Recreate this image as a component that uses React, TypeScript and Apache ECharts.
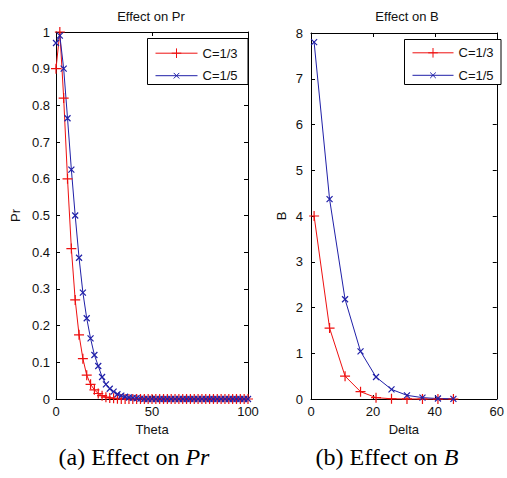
import React, { useEffect, useRef } from "react";
import * as echarts from "echarts";

const theta = [0, 2, 4, 6, 8, 10, 12, 14, 16, 18, 20, 22, 24, 26, 28, 30, 32, 34, 36, 38, 40, 42, 44, 46, 48, 50, 52, 54, 56, 58, 60, 62, 64, 66, 68, 70, 72, 74, 76, 78, 80, 82, 84, 86, 88, 90, 92, 94, 96, 98, 100];
const prRed = [0.9, 1.0, 0.82, 0.6, 0.41, 0.27, 0.175, 0.11, 0.065, 0.04, 0.025, 0.015, 0.009, 0.005, 0.003, 0.002, 0.001, 0, 0, 0, 0, 0, 0, 0, 0, 0, 0, 0, 0, 0, 0, 0, 0, 0, 0, 0, 0, 0, 0, 0, 0, 0, 0, 0, 0, 0, 0, 0, 0, 0, 0];
const prBlue = [0.97, 0.99, 0.9, 0.765, 0.625, 0.5, 0.385, 0.29, 0.22, 0.165, 0.12, 0.09, 0.06, 0.04, 0.028, 0.02, 0.013, 0.009, 0.006, 0.004, 0.003, 0.002, 0.001, 0, 0, 0, 0, 0, 0, 0, 0, 0, 0, 0, 0, 0, 0, 0, 0, 0, 0, 0, 0, 0, 0, 0, 0, 0, 0, 0, 0];
const delta = [1, 6, 11, 16, 21, 26, 31, 36, 41, 46];
const bRed = [4.0, 1.55, 0.5, 0.16, 0.03, 0.005, 0.001, 0, 0, 0];
const bBlue = [7.8, 4.37, 2.18, 1.04, 0.48, 0.21, 0.08, 0.03, 0.01, 0.004];
const seriesNames = ["C=1/3", "C=1/5"];

const RED = "#ee1010";
const BLUE = "#2020a8";
const FONT = "Liberation Sans";
const PLUS = "path://M0,5L10,5M5,0L5,10";
const CROSS = "path://M0,0L10,10M10,0L0,10";

const zip = (xs: number[], ys: number[]) => xs.map((x, i) => [x, ys[i]]);

export default function App() {
  const ref = useRef<HTMLDivElement>(null);
  useEffect(() => {
    const chart = echarts.init(ref.current!, null, { renderer: "svg" });
    const axisCommon = {
      type: "value" as const,
      splitLine: { show: false },
      axisLine: { show: true, onZero: false, lineStyle: { color: "#000", width: 1 } },
      axisTick: { show: true, inside: true, length: 4, lineStyle: { color: "#000" } },
      axisLabel: { color: "#111", fontFamily: FONT, fontSize: 13 },
    };
    const hidden = { ...axisCommon, axisLabel: { show: false } };
    const nameStyle = { color: "#111", fontFamily: FONT, fontSize: 13 };
    const lineSeries = (name: string, data: number[][], color: string, sym: string, size: number, xi: number, yi: number) => ({
      type: "line",
      name,
      data,
      xAxisIndex: xi,
      yAxisIndex: yi,
      symbol: sym,
      symbolSize: size,
      showAllSymbol: true,
      clip: false,
      lineStyle: { color, width: 1 },
      itemStyle: { color, borderColor: color, borderWidth: 1.2 },
    });
    const legendItem = (name: string, left: number, cy: number, h: number, w: number) => ({
      orient: "vertical" as const,
      data: [name],
      left,
      top: cy - h / 2,
      padding: 0,
      itemWidth: w,
      itemHeight: h,
      lineStyle: { width: 1 },
      itemStyle: { borderWidth: 1 },
      textStyle: { color: "#111", fontFamily: FONT, fontSize: 13 },
      selectedMode: false,
    });
    chart.setOption({
      animation: false,
      backgroundColor: "#fff",
      grid: [
        { left: 56, top: 32, width: 192, height: 367 },
        { left: 311, top: 33, width: 194, height: 366 },
      ],
      xAxis: [
        { ...axisCommon, gridIndex: 0, position: "bottom", min: 0, max: 100, interval: 50, name: "Theta", nameLocation: "middle", nameGap: 23, nameTextStyle: nameStyle, axisLabel: { ...axisCommon.axisLabel, margin: 6 } },
        { ...hidden, gridIndex: 0, position: "top", min: 0, max: 100, interval: 50 },
        { ...axisCommon, gridIndex: 1, position: "bottom", min: 0, max: 60, interval: 20, name: "Delta", nameLocation: "middle", nameGap: 23, nameTextStyle: nameStyle, axisLabel: { ...axisCommon.axisLabel, margin: 6 } },
        { ...hidden, gridIndex: 1, position: "top", min: 0, max: 60, interval: 20 },
      ],
      yAxis: [
        { ...axisCommon, gridIndex: 0, position: "left", min: 0, max: 1, interval: 0.1, name: "Pr", nameLocation: "middle", nameGap: 34, nameTextStyle: nameStyle, axisLabel: { ...axisCommon.axisLabel, margin: 6, formatter: (v: number) => String(+v.toFixed(1)) } },
        { ...hidden, gridIndex: 0, position: "right", min: 0, max: 1, interval: 0.1 },
        { ...axisCommon, gridIndex: 1, position: "left", min: 0, max: 8, interval: 1, name: "B", nameLocation: "middle", nameGap: 23, nameTextStyle: nameStyle, axisLabel: { ...axisCommon.axisLabel, margin: 8 } },
        { ...hidden, gridIndex: 1, position: "right", min: 0, max: 8, interval: 1 },
      ],
      legend: [
        legendItem(seriesNames[0], 155, 52.7, 12, 42),
        legendItem(seriesNames[1], 155, 72.7, 7, 42),
        legendItem(seriesNames[0], 412, 52.3, 12, 41),
        legendItem(seriesNames[1], 412, 72.3, 7, 41),
      ],
      series: [
        lineSeries(seriesNames[0], zip(theta, prRed), RED, PLUS, 10, 0, 0),
        lineSeries(seriesNames[1], zip(theta, prBlue), BLUE, CROSS, 6, 0, 0),
        lineSeries(seriesNames[0], zip(delta, bRed), RED, PLUS, 10, 2, 2),
        lineSeries(seriesNames[1], zip(delta, bBlue), BLUE, CROSS, 6, 2, 2),
      ],
      graphic: [
        { type: "rect", z: 3, shape: { x: 147.5, y: 38.5, width: 100.5, height: 46 }, style: { fill: "#fff", stroke: "#000", lineWidth: 1 } },
        { type: "rect", z: 3, shape: { x: 404.5, y: 39.5, width: 96.5, height: 45 }, style: { fill: "#fff", stroke: "#000", lineWidth: 1 } },
        { type: "text", x: 151, y: 16, style: { text: "Effect on Pr", align: "center", verticalAlign: "middle", fill: "#111", font: `13px "${FONT}"` } },
        { type: "text", x: 407, y: 16, style: { text: "Effect on B", align: "center", verticalAlign: "middle", fill: "#111", font: `13px "${FONT}"` } },
        {
          type: "text", x: 134, y: 457,
          style: {
            text: "(a) Effect on {i|Pr}", align: "center", verticalAlign: "middle", fill: "#000",
            font: `24px "Liberation Serif"`,
            rich: { i: { fontStyle: "italic", fontFamily: "Liberation Serif", fontSize: 24, fill: "#000" } },
          },
        },
        {
          type: "text", x: 387, y: 457,
          style: {
            text: "(b) Effect on {i|B}", align: "center", verticalAlign: "middle", fill: "#000",
            font: `24px "Liberation Serif"`,
            rich: { i: { fontStyle: "italic", fontFamily: "Liberation Serif", fontSize: 24, fill: "#000" } },
          },
        },
      ],
    });
    return () => chart.dispose();
  }, []);
  return <div ref={ref} style={{ position: "absolute", left: 0, top: 0, width: 507, height: 478 }} />;
}
